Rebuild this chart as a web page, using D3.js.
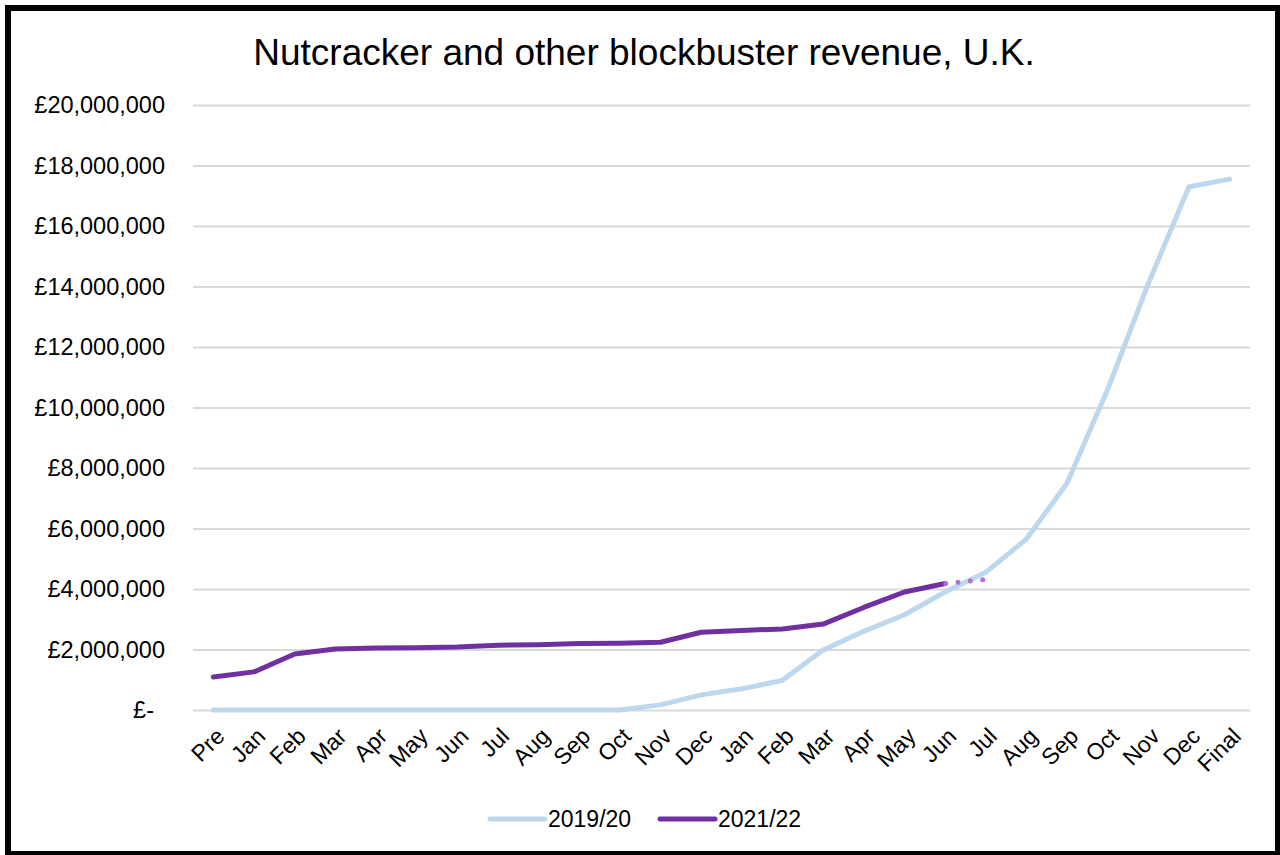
<!DOCTYPE html>
<html>
<head>
<meta charset="utf-8">
<script src="https://cdn.jsdelivr.net/npm/d3@7"></script>
<style>
  body { margin: 0; background: #fff; }
  text { font-family: Arial, "Liberation Sans", sans-serif; fill: #000; }
</style>
</head>
<body>
<script>
const canvWidth = 1280, canvHeight = 855;
const margin = {top: 105, right: 30, bottom: 145, left: 193};
const width = 1250 - margin.left;
const height = 710 - margin.top;

// data
const months = ["Pre", "Jan", "Feb", "Mar", "Apr", "May", "Jun", "Jul", "Aug", "Sep", "Oct", "Nov", "Dec",
    "Jan", "Feb", "Mar", "Apr", "May", "Jun", "Jul", "Aug", "Sep", "Oct", "Nov", "Dec", "Final"];
const rev2019 = [0, 0, 0, 0, 0, 0, 0, 0, 0, 0, 0, 170000, 500000, 700000, 980000, 1980000, 2600000,
    3150000, 3900000, 4550000, 5650000, 7500000, 10600000, 14100000, 17300000, 17550000];
const rev2021 = [1090000, 1260000, 1850000, 2020000, 2050000, 2060000, 2080000, 2140000, 2160000,
    2200000, 2210000, 2240000, 2570000, 2630000, 2680000, 2840000, 3390000, 3900000, 4180000];
const projIdx = [18, 19];
const projVals = [4180000, 4320000];
const yTicks = [0, 2000000, 4000000, 6000000, 8000000, 10000000, 12000000, 14000000, 16000000, 18000000, 20000000];
const seriesNames = ["2019/20", "2021/22"];
const colors = ["#bdd7ee", "#7030a0"];

const svg = d3.select("body").append("svg")
    .attr("width", canvWidth)
    .attr("height", canvHeight);

svg.append("rect")
    .attr("x", 8).attr("y", 8)
    .attr("width", 1270).attr("height", 846)
    .attr("fill", "#fff")
    .attr("stroke", "#000")
    .attr("stroke-width", 6);

svg.append("text")
    .attr("x", 644)
    .attr("y", 65)
    .attr("font-size", "37px")
    .style("text-anchor", "middle")
    .text("Nutcracker and other blockbuster revenue, U.K.");

const chart = svg.append("g")
    .attr("transform", `translate(${margin.left},${margin.top})`);

const xScale = d3.scalePoint()
    .domain(d3.range(months.length))
    .range([0, width])
    .padding(0.5);

const yScale = d3.scaleLinear()
    .domain([0, 20000000])
    .range([height, 0]);

const fmt = d3.format(",");
const yAxis = d3.axisLeft(yScale)
    .tickValues(yTicks)
    .tickSize(-width)
    .tickPadding(28)
    .tickFormat(d => d === 0 ? "£-" : "£" + fmt(d));

const yG = chart.append("g").call(yAxis);
yG.select(".domain").remove();
yG.selectAll(".tick line").attr("stroke", "#d9d9d9").attr("stroke-width", 2);
yG.selectAll(".tick text")
    .attr("font-size", "23.5px")
    .attr("font-family", "Arial, 'Liberation Sans', sans-serif")
    .attr("fill", "#000")
    .attr("dx", d => d === 0 ? -11 : 0);

// x labels, rotated
chart.append("g")
    .selectAll("text")
    .data(months)
    .enter().append("text")
    .attr("transform", (d, i) => `translate(${xScale(i) + 7},${height + 22}) rotate(-45)`)
    .attr("dy", "0.35em")
    .attr("font-size", "23px")
    .style("text-anchor", "end")
    .text(d => d);

const line = d3.line()
    .x((d, i) => xScale(i))
    .y(d => yScale(d));

chart.append("path")
    .datum(rev2019)
    .attr("d", line)
    .attr("fill", "none")
    .attr("stroke", colors[0])
    .attr("stroke-width", 5)
    .attr("stroke-linejoin", "round")
    .attr("stroke-linecap", "round");

chart.append("path")
    .datum(rev2021)
    .attr("d", line)
    .attr("fill", "none")
    .attr("stroke", colors[1])
    .attr("stroke-width", 5)
    .attr("stroke-linejoin", "round")
    .attr("stroke-linecap", "round");

// projected segment, dotted
chart.append("path")
    .datum(projVals)
    .attr("d", d3.line().x((d, i) => xScale(projIdx[i])).y(d => yScale(d)))
    .attr("fill", "none")
    .attr("stroke", "#b26fd8")
    .attr("stroke-width", 5)
    .attr("stroke-linecap", "round")
    .attr("stroke-dasharray", "0 12.4")
    .attr("stroke-dashoffset", -13);

// legend
const legend = svg.append("g");
const legendX = [490, 660];
seriesNames.forEach((name, i) => {
    legend.append("line")
        .attr("x1", legendX[i]).attr("x2", legendX[i] + 55)
        .attr("y1", 819).attr("y2", 819)
        .attr("stroke", colors[i])
        .attr("stroke-width", 5)
        .attr("stroke-linecap", "round");
    legend.append("text")
        .attr("x", legendX[i] + 58)
        .attr("y", 819)
        .attr("dy", "0.35em")
        .attr("font-size", "23px")
        .text(name);
});
</script>
</body>
</html>
